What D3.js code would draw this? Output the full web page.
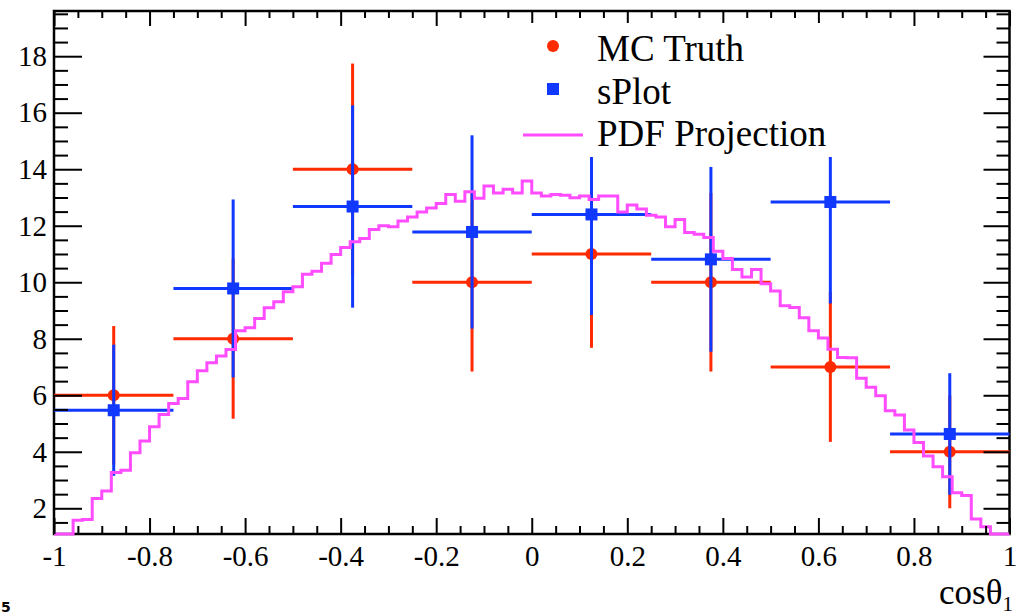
<!DOCTYPE html>
<html>
<head>
<meta charset="utf-8">
<script src="https://cdn.jsdelivr.net/npm/d3@7"></script>
<style>
body { margin: 0; background: #fff; }
svg { display: block; }
</style>
</head>
<body>
<svg id="chart" width="1020" height="615"></svg>
<script>
// 8 coarse bins for the data points
const binCenters = [-0.875, -0.625, -0.375, -0.125, 0.125, 0.375, 0.625, 0.875];
const binHalfWidth = 0.125;
const mcTruth    = [6, 8, 14, 10, 11, 10, 7, 4];
const mcTruthErr = [2.45, 2.83, 3.74, 3.16, 3.32, 3.16, 2.65, 2.0];
const sPlot      = [5.47, 9.78, 12.68, 11.78, 12.40, 10.81, 12.84, 4.63];
const sPlotErr   = [2.32, 3.15, 3.58, 3.42, 3.56, 3.27, 3.59, 2.15];

// PDF projection, 100 bins of width 0.02 from -1 to 1
const pdfBinWidth = 0.02;
const pdfProjection = [
  1.00, 1.05, 1.58, 1.60, 2.35, 2.61, 3.27, 3.35, 3.97, 4.38,
  4.89, 5.32, 5.71, 5.89, 6.48, 6.87, 7.15, 7.39, 7.62, 8.28,
  8.39, 8.72, 9.10, 9.31, 9.66, 9.84, 10.28, 10.39, 10.67, 10.98,
  11.23, 11.43, 11.55, 11.87, 12.00, 11.96, 12.17, 12.31, 12.49, 12.63,
  12.79, 13.11, 12.87, 13.20, 12.97, 13.41, 13.16, 13.29, 13.16, 13.58,
  13.16, 13.05, 13.11, 13.08, 12.99, 13.05, 12.93, 13.05, 13.05, 12.49,
  12.73, 12.59, 12.37, 12.31, 11.96, 12.22, 11.76, 11.70, 11.58, 11.10,
  10.84, 10.45, 10.19, 10.45, 9.95, 9.69, 9.17, 9.11, 8.74, 8.28,
  8.03, 7.63, 7.34, 7.33, 6.60, 6.28, 5.98, 5.45, 5.30, 4.77,
  4.33, 3.85, 3.47, 3.12, 2.55, 2.45, 1.62, 1.35, 1.00, 1.00
];

const xTicks = [-1, -0.8, -0.6, -0.4, -0.2, 0, 0.2, 0.4, 0.6, 0.8, 1];
const yTicks = [2, 4, 6, 8, 10, 12, 14, 16, 18];
const xDomain = [-1, 1];
const yDomain = [1.09, 19.6];

const legendItems = ["MC Truth", "sPlot", "PDF Projection"];

const red = "#ff2a00", blue = "#1038ff", pink = "#ff4cff";
const serif = "'Liberation Serif', 'Times New Roman', serif";

const frame = {left: 54, right: 1009.5, top: 11, bottom: 534};

const svg = d3.select("#chart");

const x = d3.scaleLinear().domain(xDomain).range([frame.left, frame.right]);
const y = d3.scaleLinear().domain(yDomain).range([frame.bottom, frame.top]);

// frame box
svg.append("rect")
	.attr("x", frame.left).attr("y", frame.top)
	.attr("width", frame.right - frame.left)
	.attr("height", frame.bottom - frame.top)
	.attr("fill", "none")
	.attr("stroke", "black")
	.attr("stroke-width", 2.5);

// error bars + markers
function drawPoints(vals, errs, color, shape) {
	const g = svg.append("g");
	vals.forEach((v, i) => {
		const c = binCenters[i];
		g.append("line")
			.attr("x1", x(c - binHalfWidth)).attr("x2", x(c + binHalfWidth))
			.attr("y1", y(v)).attr("y2", y(v))
			.attr("stroke", color).attr("stroke-width", 3);
		g.append("line")
			.attr("x1", x(c)).attr("x2", x(c))
			.attr("y1", y(v - errs[i])).attr("y2", y(v + errs[i]))
			.attr("stroke", color).attr("stroke-width", 3);
		if (shape == "circle") {
			g.append("circle").attr("cx", x(c)).attr("cy", y(v)).attr("r", 6).attr("fill", color);
		} else {
			g.append("rect").attr("x", x(c) - 6).attr("y", y(v) - 6)
				.attr("width", 12).attr("height", 12).attr("fill", color);
		}
	});
}
drawPoints(mcTruth, mcTruthErr, red, "circle");
drawPoints(sPlot, sPlotErr, blue, "square");

// PDF projection step histogram
const pdfPoints = pdfProjection.map((v, i) => [xDomain[0] + i * pdfBinWidth, v]);
pdfPoints.push([xDomain[1], pdfProjection[pdfProjection.length - 1]]);
const stepLine = d3.line()
	.x(d => x(d[0]))
	.y(d => y(Math.max(d[1], yDomain[0])))
	.curve(d3.curveStepAfter);
svg.append("path")
	.attr("d", stepLine(pdfPoints))
	.attr("fill", "none")
	.attr("stroke", pink)
	.attr("stroke-width", 3);

// axes (ticks only, frame already drawn)
const fmt = d => String(+d.toFixed(1));
const minorX = d3.range(-20, 21).map(i => i * 0.05).filter(v => Math.abs(v * 5 - Math.round(v * 5)) > 1e-6);
const minorY = d3.range(3, 40).map(i => i * 0.5).filter(v => v % 2 != 0 && v <= yDomain[1]);

function styleAxis(g) {
	g.select(".domain").remove();
	g.selectAll("line").attr("stroke", "black").attr("stroke-width", 2);
	g.attr("font-family", serif).attr("font-size", 29);
	g.selectAll("text").attr("fill", "black");
}

svg.append("g").attr("transform", `translate(0,${frame.bottom})`)
	.call(d3.axisBottom(x).tickValues(xTicks).tickSize(-16).tickPadding(11).tickFormat(fmt))
	.call(styleAxis);
svg.append("g").attr("transform", `translate(0,${frame.bottom})`)
	.call(d3.axisBottom(x).tickValues(minorX).tickSize(-8).tickFormat(""))
	.call(styleAxis);
svg.append("g").attr("transform", `translate(0,${frame.top})`)
	.call(d3.axisTop(x).tickValues(xTicks).tickSize(-15).tickFormat(""))
	.call(styleAxis);
svg.append("g").attr("transform", `translate(0,${frame.top})`)
	.call(d3.axisTop(x).tickValues(minorX).tickSize(-7).tickFormat(""))
	.call(styleAxis);

svg.append("g").attr("transform", `translate(${frame.left},0)`)
	.call(d3.axisLeft(y).tickValues(yTicks).tickSize(-28).tickPadding(7).tickFormat(d => d))
	.call(styleAxis);
svg.append("g").attr("transform", `translate(${frame.left},0)`)
	.call(d3.axisLeft(y).tickValues(minorY).tickSize(-14).tickFormat(""))
	.call(styleAxis);
svg.append("g").attr("transform", `translate(${frame.right},0)`)
	.call(d3.axisRight(y).tickValues(yTicks).tickSize(-26).tickFormat(""))
	.call(styleAxis);
svg.append("g").attr("transform", `translate(${frame.right},0)`)
	.call(d3.axisRight(y).tickValues(minorY).tickSize(-13).tickFormat(""))
	.call(styleAxis);

// legend (white box covers what lies beneath)
const legend = svg.append("g");
legend.append("rect")
	.attr("x", 495).attr("y", 23).attr("width", 385).attr("height", 134)
	.attr("fill", "white");
const rowY = [46, 89, 131];
legend.append("circle").attr("cx", 553).attr("cy", rowY[0]).attr("r", 6).attr("fill", red);
legend.append("rect").attr("x", 547).attr("y", rowY[1] - 6).attr("width", 12).attr("height", 12).attr("fill", blue);
legend.append("line")
	.attr("x1", 523).attr("x2", 583).attr("y1", rowY[2] + 4).attr("y2", rowY[2] + 4)
	.attr("stroke", pink).attr("stroke-width", 3);
legend.selectAll("text.leg")
	.data(legendItems)
	.join("text")
	.attr("class", "leg")
	.attr("x", 597)
	.attr("y", (d, i) => rowY[i] + 15)
	.attr("font-family", serif)
	.attr("font-size", 37)
	.text(d => d);

// x axis title
const title = svg.append("text")
	.attr("x", 1013).attr("y", 604)
	.attr("text-anchor", "end")
	.attr("font-family", serif)
	.attr("font-size", 35);
title.append("tspan").text("cosθ");
title.append("tspan").attr("font-size", 21).attr("dy", 7).text("1");

// page mark at bottom-left
svg.append("text")
	.attr("x", 1).attr("y", 612)
	.attr("font-family", "'DejaVu Sans', sans-serif")
	.attr("font-weight", "bold")
	.attr("font-size", 14)
	.text("5");
</script>
</body>
</html>
